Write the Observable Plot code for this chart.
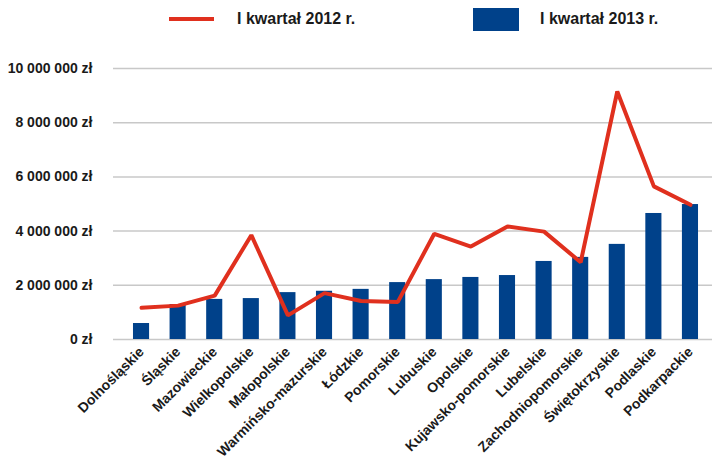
<!DOCTYPE html>
<html>
<head>
<meta charset="utf-8">
<script src="https://cdn.jsdelivr.net/npm/d3@7"></script>
<script src="https://cdn.jsdelivr.net/npm/@observablehq/plot@0.6"></script>
<style>
  html, body { margin: 0; padding: 0; background: #fff; }
  body { width: 712px; height: 461px; overflow: hidden; font-family: "Liberation Sans", Arial, sans-serif; }
  #legend { position: relative; width: 712px; height: 40px; font-weight: bold; font-size: 16px; color: #1a1a1a; }
  #legend .sw-line { position: absolute; left: 169px; top: 17px; width: 45px; height: 4px; background: #e0301e; }
  #legend .sw-bar { position: absolute; left: 473px; top: 8px; width: 46px; height: 23px; background: #00418a; }
  #legend .t1 { position: absolute; left: 237px; top: 10px; }
  #legend .t2 { position: absolute; left: 540px; top: 10px; }
  #chart svg { display: block; }
</style>
</head>
<body>
<div id="legend">
  <div class="sw-line"></div><div class="t1">I kwartał 2012 r.</div>
  <div class="sw-bar"></div><div class="t2">I kwartał 2013 r.</div>
</div>
<div id="chart"></div>
<script>
const regions = ["Dolnośląskie","Śląskie","Mazowieckie","Wielkopolskie","Małopolskie","Warmińsko-mazurskie","Łódzkie","Pomorskie","Lubuskie","Opolskie","Kujawsko-pomorskie","Lubelskie","Zachodniopomorskie","Świętokrzyskie","Podlaskie","Podkarpackie"];
const q1_2013 = [590000, 1290000, 1480000, 1510000, 1730000, 1780000, 1850000, 2100000, 2210000, 2290000, 2360000, 2880000, 3030000, 3510000, 4650000, 4980000];
const q1_2012 = [1170000, 1250000, 1620000, 3850000, 890000, 1710000, 1420000, 1380000, 3900000, 3430000, 4170000, 3980000, 2850000, 9150000, 5650000, 4970000];
const yTicks = [0, 2000000, 4000000, 6000000, 8000000, 10000000];

const data = regions.map((r, i) => ({region: r, v2013: q1_2013[i], v2012: q1_2012[i]}));
const fmt = v => d3.format(",")(v).replace(/,/g, " ") + " zł";

const chart = Plot.plot({
  width: 712,
  height: 421,
  marginTop: 28,
  marginBottom: 122,
  marginLeft: 113,
  marginRight: 0,
  style: {fontFamily: "'Liberation Sans', Arial, sans-serif", fontWeight: "bold", color: "#1a1a1a", background: "#fff"},
  x: {type: "band", domain: regions, round: false, paddingInner: 0.56, paddingOuter: 0.3, insetLeft: 9, insetRight: 3, label: null},
  y: {domain: [0, 10000000], label: null},
  marks: [
    Plot.ruleY(yTicks, {stroke: "#c8c8c8", strokeWidth: 1.5}),
    Plot.barY(data, {x: "region", y: "v2013", fill: "#00418a"}),
    Plot.lineY(data, {x: "region", y: "v2012", stroke: "#e0301e", strokeWidth: 4, strokeLinejoin: "miter"}),
    Plot.axisY({ticks: yTicks, tickFormat: fmt, tickSize: 0, tickPadding: 21, fontSize: 14, fontWeight: "bold", label: null}),
    Plot.axisX({tickSize: 0, tickPadding: 10, tickRotate: -45, fontSize: 14, fontWeight: "bold", label: null})
  ]
});
document.getElementById("chart").appendChild(chart);
</script>
</body>
</html>
